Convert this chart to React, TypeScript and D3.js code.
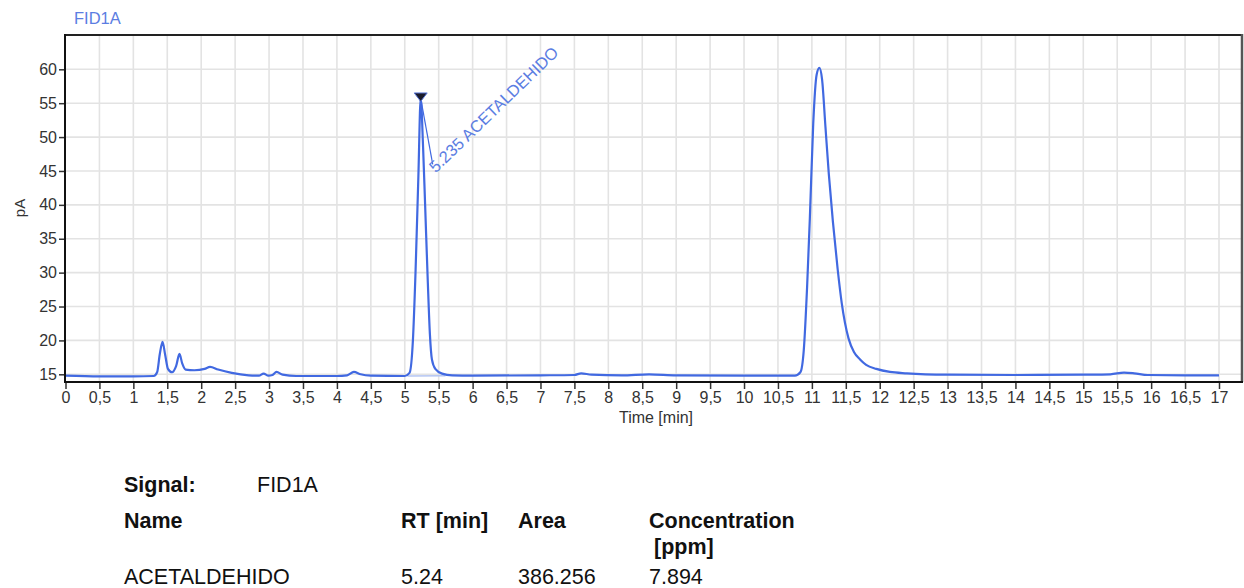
import React, { useEffect, useRef } from 'react';
import * as d3 from 'd3';

// chromatogram trace
const timeMin = [
  0, 0.5, 1.0, 1.3, 1.35, 1.39, 1.43, 1.47, 1.51, 1.57, 1.63, 1.68, 1.72, 1.77, 1.9, 2.05, 2.13, 2.25, 2.45,
  2.7, 2.85, 2.92, 2.99, 3.05, 3.11, 3.2, 3.4, 4.0, 4.15, 4.25, 4.35, 4.5, 5.0, 5.07, 5.12, 5.16, 5.2, 5.235,
  5.27, 5.3, 5.34, 5.37, 5.4, 5.45, 5.55, 5.7, 6.0, 7.0, 7.5, 7.6, 7.75, 8.2, 8.6, 9.0, 10.0, 10.75, 10.83,
  10.88, 10.93, 10.97, 11.02, 11.07, 11.11, 11.15, 11.2, 11.25, 11.31, 11.38, 11.44, 11.54, 11.62, 11.71,
  11.8, 11.95, 12.15, 12.4, 13.0, 14.0, 15.0, 15.4, 15.6, 15.75, 15.95, 16.5, 17.0,
];
const signalPA = [
  14.8, 14.7, 14.7, 14.75, 15.3, 18.0, 19.8, 17.8, 15.8, 15.3, 16.2, 18.0, 16.6, 15.7, 15.6, 15.8, 16.1, 15.7, 15.2,
  14.85, 14.8, 15.1, 14.8, 14.9, 15.35, 14.95, 14.75, 14.75, 14.85, 15.35, 15.0, 14.8, 14.75, 15.2, 20.0, 30.5, 44.0, 55.7,
  48.5, 40.0, 28.5, 21.0, 17.2, 15.8, 15.1, 14.85, 14.8, 14.85, 14.9, 15.15, 14.95, 14.85, 15.0, 14.85, 14.8, 14.8, 15.3,
  18.5, 28.0, 38.0, 52.0, 59.2, 60.2, 58.5, 51.5, 44.5, 37.5, 30.5, 25.5, 20.3, 18.3, 17.2,
  16.4, 15.8, 15.35, 15.15, 14.95, 14.9, 14.95, 15.0, 15.25, 15.15, 14.9, 14.85, 14.85,
];

// integration baseline under the identified peak
const baseTimes = [5.04, 5.6];
const baseValues = [14.75, 14.8];

const peakRT = 5.235;
const peakTop = 55.7;
const peakName = 'ACETALDEHIDO';

const yTicks = [15, 20, 25, 30, 35, 40, 45, 50, 55, 60];
const xTicks = [
  0, 0.5, 1, 1.5, 2, 2.5, 3, 3.5, 4, 4.5, 5, 5.5, 6, 6.5, 7, 7.5, 8, 8.5, 9, 9.5, 10, 10.5, 11, 11.5,
  12, 12.5, 13, 13.5, 14, 14.5, 15, 15.5, 16, 16.5, 17,
];

const signalName = 'FID1A';
const tableHeader = ['Name', 'RT [min]', 'Area', 'Concentration'];
const tableRow = ['ACETALDEHIDO', '5.24', '386.256', '7.894'];

const FONT = '"Liberation Sans", Arial, sans-serif';
const BLUE = '#4169e1';

const App = () => {
  const ref = useRef(null);

  useEffect(() => {
    const svg = d3.select(ref.current);
    svg.selectAll('*').remove();

    const box = { left: 65, right: 1242, top: 35, bottom: 382 };
    const x = d3.scaleLinear().domain([0, 17]).range([65.5, 1219]);
    const y = d3.scaleLinear().domain([15, 60]).range([374.3, 69.3]);

    // grid
    const grid = svg.append('g').attr('stroke', '#e3e3e3').attr('stroke-width', 1.6);
    xTicks.filter(t => t > 0).forEach(t => {
      grid.append('line').attr('x1', x(t)).attr('x2', x(t)).attr('y1', box.top).attr('y2', box.bottom);
    });
    yTicks.forEach(v => {
      grid.append('line').attr('x1', box.left).attr('x2', box.right).attr('y1', y(v)).attr('y2', y(v));
    });

    svg.append('clipPath').attr('id', 'plot-clip')
      .append('rect')
      .attr('x', box.left).attr('y', box.top)
      .attr('width', box.right - box.left).attr('height', box.bottom - box.top);

    const plot = svg.append('g').attr('clip-path', 'url(#plot-clip)');

    // integration baseline
    plot.append('line')
      .attr('x1', x(baseTimes[0])).attr('y1', y(baseValues[0]))
      .attr('x2', x(baseTimes[1])).attr('y2', y(baseValues[1]))
      .attr('stroke', '#b4c5f2').attr('stroke-width', 1.5);

    const pts = timeMin.map((t, i) => [t, signalPA[i]]);
    const line = d3.line().x(d => x(d[0])).y(d => y(d[1])).curve(d3.curveMonotoneX);
    plot.append('path')
      .attr('d', line(pts))
      .attr('fill', 'none')
      .attr('stroke', BLUE)
      .attr('stroke-width', 2.2)
      .attr('stroke-linejoin', 'round');

    // frame
    svg.append('line').attr('x1', box.left).attr('x2', box.right).attr('y1', box.top).attr('y2', box.top)
      .attr('stroke', '#222').attr('stroke-width', 2);
    svg.append('line').attr('x1', box.right).attr('x2', box.right).attr('y1', box.top - 1).attr('y2', box.bottom)
      .attr('stroke', '#555').attr('stroke-width', 2.5);

    // y axis
    const yAxis = svg.append('g')
      .attr('transform', `translate(${box.left},0)`)
      .call(d3.axisLeft(y).tickValues(yTicks).tickSize(6).tickPadding(2).tickSizeOuter(0));
    yAxis.select('.domain').remove();
    yAxis.append('line').attr('y1', box.top - 1).attr('y2', box.bottom).attr('stroke', '#111').attr('stroke-width', 2);
    yAxis.selectAll('.tick line').attr('stroke', '#333').attr('stroke-width', 1.5);
    yAxis.selectAll('.tick text').attr('fill', '#333').style('font-family', FONT).style('font-size', '16px');

    // x axis
    const xAxis = svg.append('g')
      .attr('transform', `translate(0,${box.bottom})`)
      .call(d3.axisBottom(x).tickValues(xTicks).tickSize(7).tickPadding(3).tickSizeOuter(0)
        .tickFormat(d => String(d).replace('.', ',')));
    xAxis.select('.domain').remove();
    xAxis.append('line').attr('x1', box.left - 1).attr('x2', box.right + 1).attr('stroke', '#111').attr('stroke-width', 2);
    xAxis.selectAll('.tick line').attr('stroke', '#333').attr('stroke-width', 1.5);
    xAxis.selectAll('.tick text').attr('fill', '#333').style('font-family', FONT).style('font-size', '16px');

    svg.append('text')
      .attr('x', 656).attr('y', 423)
      .attr('text-anchor', 'middle')
      .attr('fill', '#333')
      .style('font-family', FONT).style('font-size', '16px')
      .text('Time [min]');

    svg.append('text')
      .attr('transform', 'translate(25,208) rotate(-90)')
      .attr('text-anchor', 'middle')
      .attr('fill', '#333')
      .style('font-family', FONT).style('font-size', '15px')
      .text('pA');

    svg.append('text')
      .attr('x', 74).attr('y', 24)
      .attr('fill', '#5b7de2')
      .style('font-family', FONT).style('font-size', '16.5px')
      .text(signalName);

    // peak annotation
    const px = x(peakRT), py = y(peakTop);
    svg.append('line')
      .attr('x1', px).attr('y1', py).attr('x2', px + 12).attr('y2', py + 66)
      .attr('stroke', BLUE).attr('stroke-width', 1.2);
    svg.append('path')
      .attr('d', 'M-6.5,-4.5L6.5,-4.5L0,4Z')
      .attr('transform', `translate(${px},${py - 1})`)
      .attr('fill', '#1b1b2b').attr('stroke', '#5a78d8').attr('stroke-width', 1);
    svg.append('text')
      .attr('transform', `translate(${px + 15},${py + 75}) rotate(-44)`)
      .attr('fill', '#5b7de2')
      .style('font-family', FONT).style('font-size', '16.5px')
      .text(`${peakRT} ${peakName}`);

    // results table
    const table = svg.append('g').style('font-family', FONT).style('font-size', '21.5px').attr('fill', '#111');
    const cols = [124, 401, 518, 649];
    table.append('text').attr('x', 124).attr('y', 492).style('font-weight', 'bold').text('Signal:');
    table.append('text').attr('x', 257).attr('y', 492).text(signalName);
    tableHeader.forEach((h, i) => {
      table.append('text').attr('x', cols[i]).attr('y', 528).style('font-weight', 'bold').text(h);
    });
    table.append('text').attr('x', 654).attr('y', 554).style('font-weight', 'bold').text('[ppm]');
    tableRow.forEach((v, i) => {
      table.append('text').attr('x', cols[i]).attr('y', 584).text(v);
    });
  }, []);

  return (
    <svg
      ref={ref}
      width={1244}
      height={588}
      style={{ position: 'absolute', left: 0, top: 0, background: '#fff' }}
    />
  );
};

export default App;
